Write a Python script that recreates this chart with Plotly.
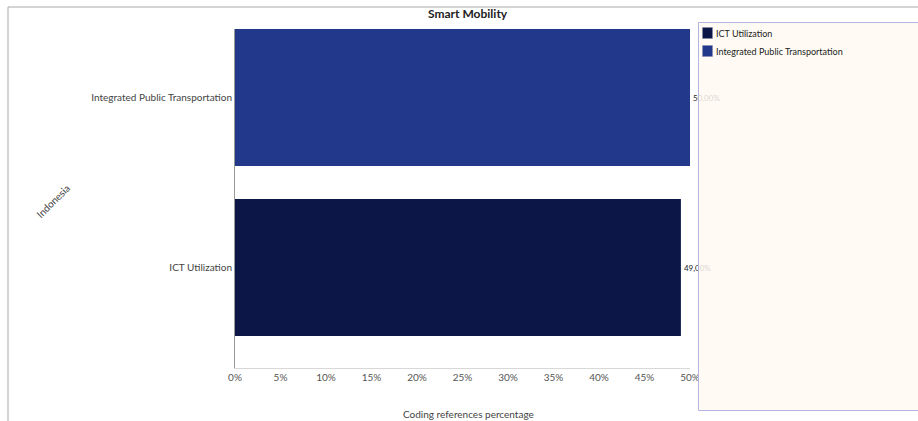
import plotly.graph_objects as go

categories = ["ICT Utilization", "Integrated Public Transportation"]
values = [49.0, 50.0]
colors = ["#0c1748", "#22398b"]
text_labels = ["49,00%", "50,00%"]
tick_vals = [0, 5, 10, 15, 20, 25, 30, 35, 40, 45, 50]
tick_text = [f"{v}%" for v in tick_vals]

W, H = 918, 421
L, R, T, B = 235, 690, 29, 368  # plot area in pixels

def px(x):
    return (x - L) / (R - L)

def py(y):
    return (B - y) / (B - T)

fig = go.Figure()
for cat, val, col, lab in zip(categories, values, colors, text_labels):
    fig.add_trace(go.Bar(
        y=[cat], x=[val], name=cat, orientation="h",
        marker=dict(color=col, line=dict(width=0)),
        text=[lab], textposition="outside", cliponaxis=False,
        textfont=dict(size=8, color="#222", family="Lato"),
        width=0.806, showlegend=False,
    ))

shapes = [
    dict(type="rect", xref="paper", yref="paper",
         x0=px(8), y0=py(7), x1=px(W + 20), y1=py(H + 20),
         line=dict(color="#aaaaaa", width=1), fillcolor="rgba(0,0,0,0)",
         layer="below"),
    dict(type="rect", xref="paper", yref="paper",
         x0=px(698.5), y0=py(22.5), x1=px(W + 20), y1=py(410.5),
         line=dict(color="#b4b4e0", width=1),
         fillcolor="rgba(255,250,242,0.82)", layer="above"),
]
annotations = [
    dict(text="<b>Smart Mobility</b>", xref="paper", yref="paper",
         x=px(468), y=py(14), showarrow=False, xanchor="center",
         yanchor="middle", font=dict(size=12, color="#222", family="Lato")),
    dict(text="Indonesia", xref="paper", yref="paper",
         x=px(53), y=py(201), showarrow=False, textangle=-45,
         xanchor="center", yanchor="middle",
         font=dict(size=10, color="#444", family="Lato")),
    dict(text="Coding references percentage", xref="paper", yref="paper",
         x=px(468), y=py(414), showarrow=False, xanchor="center",
         yanchor="middle", font=dict(size=10, color="#444", family="Lato")),
]

# legend entries (drawn manually to match the reference's compact legend)
for i, (cat, col) in enumerate(zip(categories, colors)):
    cy = 33 + 18 * i
    shapes.append(dict(type="rect", xref="paper", yref="paper",
                       x0=px(702.5), x1=px(712.5), y0=py(cy - 5.5), y1=py(cy + 5.5),
                       line=dict(color="#8888aa", width=0.5), fillcolor=col,
                       layer="above"))
    annotations.append(dict(text=cat, xref="paper", yref="paper",
                            x=px(714), y=py(cy), showarrow=False,
                            xanchor="left", yanchor="middle",
                            font=dict(size=9, color="#222", family="Lato")))

fig.update_layout(
    width=W, height=H,
    margin=dict(l=L, r=W - R, t=T, b=H - B),
    paper_bgcolor="white", plot_bgcolor="white",
    showlegend=False,
    font=dict(family="Lato", size=10, color="#444"),
    bargap=0.2,
    xaxis=dict(
        range=[0, 50], tickvals=tick_vals, ticktext=tick_text,
        showgrid=False, zeroline=False, showline=True, linecolor="#d8d8d8",
        linewidth=1, ticks="", tickfont=dict(size=10, color="#555"),
    ),
    yaxis=dict(
        categoryorder="array", categoryarray=categories,
        range=[-0.591, 1.403], showgrid=False, zeroline=False,
        showline=True, linecolor="#999", linewidth=1, ticks="",
        tickfont=dict(size=10, color="#444"),
    ),
    shapes=shapes,
    annotations=annotations,
)

fig.write_html("out.html")
